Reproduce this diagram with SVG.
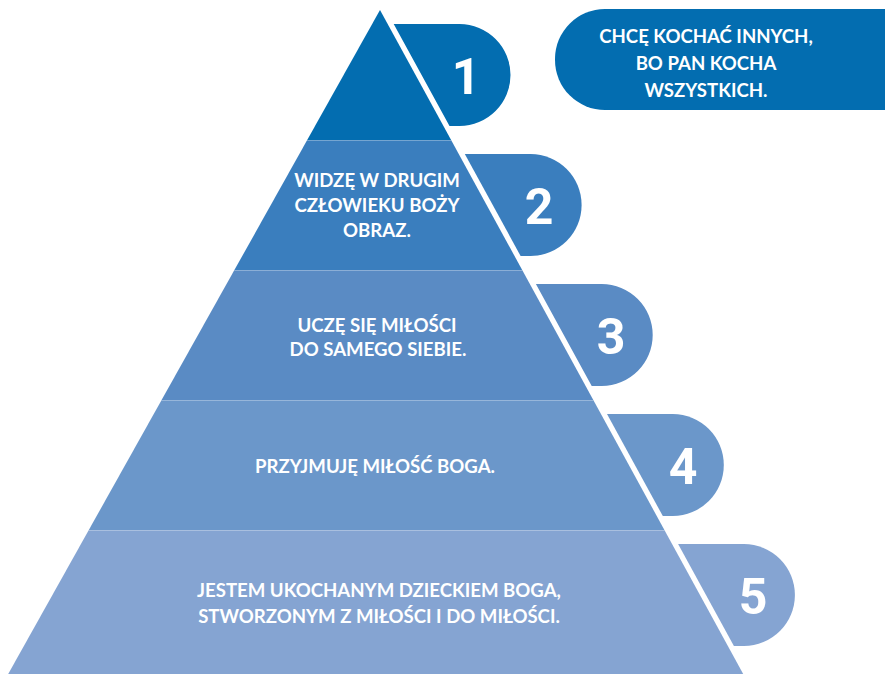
<svg xmlns="http://www.w3.org/2000/svg" width="885" height="674" viewBox="0 0 885 674">
<style>
.lbl{font-family:Lato,"Liberation Sans",sans-serif;font-weight:700;font-size:18.6px;fill:#fff;text-anchor:middle}
.num{font-family:Roboto,"Liberation Sans",sans-serif;font-weight:700;font-size:50px;fill:#fff;text-anchor:middle}
.sep{stroke:#fff;stroke-opacity:0.3;stroke-width:1}
.c1{fill:#036DB0}.c2{fill:#3A7EBE}.c3{fill:#5A8BC4}.c4{fill:#6B97CA}.c5{fill:#85A4D2}
</style>
<rect width="885" height="674" fill="#fff"/>
<g id="tier1"><polygon class="c1" points="380,10 451.1,140 307.2,140"/></g>
<g id="tier2"><polygon class="c2" points="307.2,140 451.1,140 522.2,270 234.4,270"/>
<text class="lbl" x="377" y="187">WIDZĘ W DRUGIM</text>
<text class="lbl" x="377" y="212">CZŁOWIEKU BOŻY</text>
<text class="lbl" x="377" y="237">OBRAZ.</text></g>
<g id="tier3"><polygon class="c3" points="234.4,270 522.2,270 593.3,400 161.6,400"/>
<text class="lbl" x="377" y="332">UCZĘ SIĘ MIŁOŚCI</text>
<text class="lbl" x="378" y="356">DO SAMEGO SIEBIE.</text></g>
<g id="tier4"><polygon class="c4" points="161.6,400 593.3,400 664.4,530 88.8,530"/>
<text class="lbl" x="375" y="473">PRZYJMUJĘ MIŁOŚĆ BOGA.</text></g>
<g id="tier5"><polygon class="c5" points="88.8,530 664.4,530 743.2,674 8.2,674"/>
<text class="lbl" x="379" y="597">JESTEM UKOCHANYM DZIECKIEM BOGA,</text>
<text class="lbl" x="379" y="623">STWORZONYM Z MIŁOŚCI I DO MIŁOŚCI.</text></g>
<g id="separators">
<line class="sep" x1="307.2" y1="140.5" x2="451.1" y2="140.5"/>
<line class="sep" x1="234.4" y1="270.5" x2="522.2" y2="270.5"/>
<line class="sep" x1="161.6" y1="400.5" x2="593.3" y2="400.5"/>
<line class="sep" x1="88.8" y1="530.5" x2="664.4" y2="530.5"/>
</g>
<g id="tab1"><path class="c1" d="M393.7,24 H459.5 A51,51 0 0 1 459.5,126 H449.5 Z"/><text class="num" x="466" y="94">1</text></g>
<g id="tab2"><path class="c2" d="M464.8,154 H530.6 A51,51 0 0 1 530.6,256 H520.6 Z"/><text class="num" x="539" y="224">2</text></g>
<g id="tab3"><path class="c3" d="M535.9,284 H601.7 A51,51 0 0 1 601.7,386 H591.7 Z"/><text class="num" x="611" y="354">3</text></g>
<g id="tab4"><path class="c4" d="M607,414 H672.8 A51,51 0 0 1 672.8,516 H662.8 Z"/><text class="num" x="683" y="484">4</text></g>
<g id="tab5"><path class="c5" d="M678.1,544 H743.9 A51,51 0 0 1 743.9,646 H733.9 Z"/><text class="num" x="753" y="614">5</text></g>
<g id="callout"><rect class="c1" x="555" y="9" width="400" height="101" rx="50" ry="50"/>
<text class="lbl" x="706" y="43">CHCĘ KOCHAĆ INNYCH,</text>
<text class="lbl" x="706" y="70">BO PAN KOCHA</text>
<text class="lbl" x="706" y="97">WSZYSTKICH.</text></g>
</svg>
